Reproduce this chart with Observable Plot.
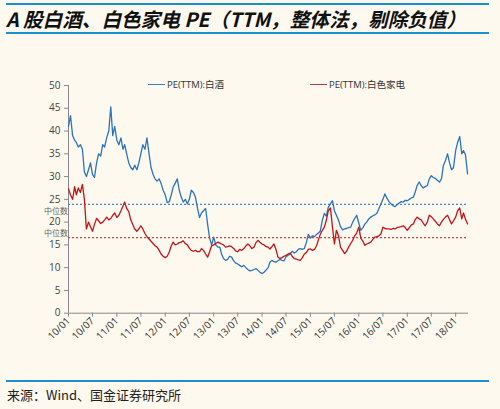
<!DOCTYPE html>
<html>
<head>
<meta charset="utf-8">
<script src="https://cdn.jsdelivr.net/npm/d3@7"></script>
<script src="https://cdn.jsdelivr.net/npm/@observablehq/plot@0.6"></script>
<style>
  html, body { margin: 0; padding: 0; }
  body { width: 500px; height: 409px; background: #fdf9ee; position: relative; overflow: hidden; font-family: "Noto Sans CJK SC", "Noto Sans", sans-serif; }
  .rule { position: absolute; left: 6px; width: 483px; height: 2px; background: #1b8fcf; }
  #title { position: absolute; left: 6px; top: 7px; font-size: 19.6px; font-weight: bold; font-style: italic; color: #111; white-space: nowrap; line-height: 24px; }
  #chart { position: absolute; left: 0; top: 40px; }
  .leg { position: absolute; top: 77px; font-size: 9.5px; color: #333; white-space: nowrap; font-family: "Open Sans", "Noto Sans CJK SC", sans-serif; }
  .leg span.sw { display: inline-block; width: 17px; height: 1.5px; vertical-align: middle; margin-right: 2px; position: relative; top: -1px; }
  .med { position: absolute; left: 44px; font-size: 8px; line-height: 8px; color: #666; font-family: "Noto Sans CJK SC", serif; white-space: nowrap; }
  #source { position: absolute; left: 7px; top: 385px; font-size: 13px; color: #222; white-space: nowrap; }
</style>
</head>
<body>
<div class="rule" style="top:3px"></div>
<div id="title">A 股白酒、白色家电 PE（TTM，整体法，剔除负值）</div>
<div class="rule" style="top:32px"></div>
<div id="chart"></div>
<div class="leg" style="left:148px"><span class="sw" style="background:#3a7fc0"></span>PE(TTM):白酒</div>
<div class="leg" style="left:310px"><span class="sw" style="background:#b23a3a"></span>PE(TTM):白色家电</div>
<div class="med" style="top:206.5px">中位数</div>
<div class="med" style="top:229px">中位数</div>
<div class="rule" style="top:380px"></div>
<div id="source">来源：Wind、国金证券研究所</div>
<script>
// Semi-monthly readings from 2010-01 (month index = i / 2)
const startYear = 2010;
const liquor = [
  41, 43.4, 39, 38, 37.5, 36.5, 37, 36, 31, 30,
  31.5, 33, 30.5, 29.8, 33, 35, 34.5, 37, 36.5, 38.5,
  40, 45.3, 39, 41, 38, 37, 38.5, 36, 37, 35,
  33, 32, 31.5, 32.5, 31.5, 33, 35, 37, 36, 38.5,
  35, 32, 30.5, 29.5, 29, 29.5, 28.5, 27, 26, 24.3,
  24.5, 26, 27.7, 28.5, 29.5, 27, 25.5, 24.4, 25, 24,
  25, 27, 26.5, 25.5, 23, 21, 22, 22.5, 23, 19.5,
  16.5, 15, 16.7, 15, 14.5, 14.5, 13, 12, 11.6, 11.8,
  12.5, 12.3, 11.5, 11, 10.8, 10.5, 10.2, 10.5, 10, 9.6,
  9.3, 9.4, 9.6, 9.8, 9.4, 9.0, 8.7, 9.0, 9.5, 10,
  11.2, 11.6, 11.3, 11.2, 11.5, 11.8, 11.6, 11.5, 12.4, 12.7,
  13.0, 13.6, 13.2, 13.5, 14.0, 14.2, 14.0, 14.2, 15.5, 17.3,
  16.5, 17.0, 16.8, 17.3, 17.6, 18, 20.4, 21.9, 21.3, 23.3,
  24, 24.7, 22.5, 21.5, 20.4, 19, 18.3, 18.5, 18.6, 18.8,
  18.9, 20, 20.8, 21.5, 19.8, 18.2, 18.8, 19.6, 20, 20.7,
  21.1, 21.4, 21.6, 21.9, 23, 24, 25, 26.2, 25.2, 24.5,
  24, 23.6, 23.4, 23.8, 24.2, 24.5, 24.4, 24.8, 24.7, 25,
  25.3, 25.5, 26.5, 28, 28.8, 28, 27.5, 27.8, 28, 29.5,
  30.2, 29.8, 29.6, 29.2, 28.8, 29.5, 32.5, 33.5, 35, 33,
  31.5, 32, 35.7, 37.5, 38.8, 35, 35.7, 34.8, 30.6
];
const appliance = [
  27.3, 26, 25, 27.8, 26, 27.5, 26.5, 28.3, 25, 18.5,
  20, 19, 18, 19.5, 20.8, 20.3, 19.7, 20, 20.5, 21.1,
  20.5, 20.8, 21.5, 22, 21, 21.5, 22.5, 23.5, 24.4, 23,
  22.3, 20.5, 19.5, 18.5, 18, 18.5, 19.2, 18.5, 17.5, 16.8,
  16.3, 15.8, 15.3, 14.8, 14.5, 13.8, 13, 12.5, 12.2, 12.5,
  13.5, 14.8, 15.6, 15, 15.2, 15.5, 15.6, 15.9, 15.3, 15,
  14.3, 13.8, 13.6, 13.8, 13.5, 13.5, 14.2, 13.8, 13, 12.3,
  13.5, 14.8, 15, 15.3, 15.6, 15.4, 15.2, 15, 14.5, 14.6,
  14.8, 14.6, 14.2, 13.7, 13.5, 14, 13.8, 14.2, 14.8, 15.2,
  14.8, 14.2, 14.5, 15.5, 16, 15.6, 15.2, 15, 14.6, 14.5,
  14.1, 14.6, 15.2, 14, 12.3, 12, 12.2, 12.5, 12.7, 13,
  13.2, 12.5, 12, 11.9, 11.7, 11.6, 12.2, 13, 13.3, 14,
  14.1, 13.8, 14, 14.8, 16, 17.3, 18.2, 18.9, 20.4, 22.5,
  23.1, 19, 15.2, 18.2, 17, 14.5, 13.8, 13.1, 13.6, 14.5,
  15.3, 16, 17, 17.6, 18.9, 16.5, 15.8, 14.9, 15.2, 15.4,
  15.6, 16.2, 16.7, 16.8, 17, 17.4, 18.9, 18.6, 18.5, 18.5,
  18.4, 18.6, 18.5, 18.8, 18.9, 19, 19.2, 18.8, 18.2, 18.8,
  19.4, 19.6, 20.5, 21.1, 20.7, 20.5, 19.8, 19.2, 20, 21.5,
  21.2, 20.7, 20.2, 19.6, 19.2, 20, 20.6, 21.1, 21.5, 20.5,
  19.6, 20.3, 21.1, 22.5, 23.1, 20.7, 22, 20.7, 19.6
];
const medians = [23.9, 16.6];
const seriesNames = ["PE(TTM):白酒", "PE(TTM):白色家电"];
const yTicks = [0, 5, 10, 15, 20, 25, 30, 35, 40, 45, 50];

const dateOf = i => new Date(Date.UTC(startYear, Math.floor(i / 2), i % 2 ? 16 : 1));
const rows = [];
liquor.forEach((v, i) => rows.push({date: dateOf(i), value: v, series: seriesNames[0]}));
appliance.forEach((v, i) => rows.push({date: dateOf(i), value: v, series: seriesNames[1]}));

const xTicks = d3.utcMonth.every(6).range(new Date(Date.UTC(2010, 0, 1)), new Date(Date.UTC(2018, 1, 1)));
const x0 = new Date(Date.UTC(2010, 0, 1));
const x1 = new Date(Date.UTC(2018, 3, 8));
const medRows = [
  {value: medians[0], c: "#3f87d6"},
  {value: medians[1], c: "#c94444"}
];

const chart = Plot.plot({
  width: 500,
  height: 330,
  marginLeft: 68,
  marginRight: 32,
  marginTop: 45,
  marginBottom: 57.3,
  style: {background: "transparent", fontFamily: "'Open Sans', 'Noto Sans', sans-serif", fontSize: "10px", color: "#444"},
  x: {type: "utc", domain: [x0, x1]},
  y: {domain: [0, 50]},
  marks: [
    Plot.ruleX([x0], {stroke: "#888", strokeWidth: 1, y1: 0, y2: 50}),
    Plot.ruleY([0], {stroke: "#888", strokeWidth: 1}),
    Plot.axisY({ticks: yTicks, tickSize: 4, tickPadding: 4, label: null, stroke: "#888", fill: "#444"}),
    Plot.axisX({ticks: xTicks, tickFormat: d3.utcFormat("%y/%m"), tickSize: 4, tickRotate: -45, tickPadding: 2, label: null, stroke: "#888", fill: "#333"}),
    Plot.ruleY(medRows, {y: "value", stroke: "c", strokeDasharray: "2,2", strokeWidth: 1.1, x1: x0, x2: x1}),
    Plot.line(rows, {x: "date", y: "value", z: "series", stroke: d => d.series === seriesNames[0] ? "#2a74bd" : "#c1151b", strokeWidth: 1.3})
  ]
});
document.getElementById("chart").appendChild(chart);
</script>
</body>
</html>
